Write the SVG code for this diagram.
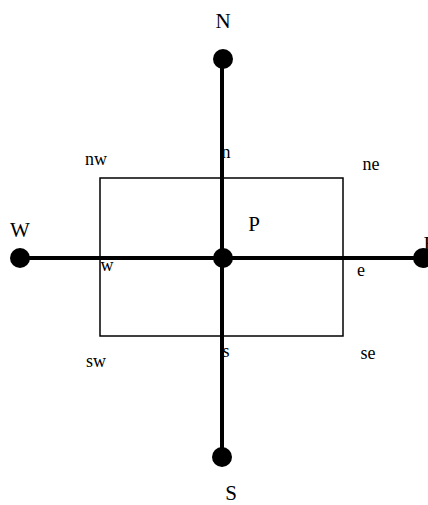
<svg xmlns="http://www.w3.org/2000/svg" width="428" height="505" viewBox="0 0 428 505">
<style>
text { font-family: "Liberation Serif", "Times New Roman", serif; fill: #000; text-anchor: middle; }
.big { font-size: 21px; }
.sm { font-size: 18px; }
.axis { stroke: #000; stroke-width: 4; fill: none; }
.cv { stroke: #000; stroke-width: 1.5; fill: none; }
.dot { fill: #000; }
</style>
<rect width="428" height="505" fill="#fff"/>
<g id="cv"><rect class="cv" x="100" y="178" width="243" height="158"/></g>
<g id="connectors">
<line class="axis" x1="222" y1="59" x2="222" y2="457"/>
<line class="axis" x1="20" y1="258" x2="422" y2="258"/>
</g>
<g id="N"><circle class="dot" cx="223" cy="59" r="10"/><text class="big" x="223" y="28">N</text></g>
<g id="S"><circle class="dot" cx="222" cy="457" r="10"/><text class="big" x="231" y="500">S</text></g>
<g id="W"><circle class="dot" cx="20" cy="258" r="10"/><text class="big" x="20" y="237">W</text></g>
<g id="E"><circle class="dot" cx="423" cy="258" r="10"/><text class="big" x="430" y="251">E</text></g>
<g id="P"><circle class="dot" cx="223" cy="258" r="10"/><text class="big" x="254" y="231">P</text></g>
<g id="faces">
<text class="sm" x="226" y="158">n</text>
<text class="sm" x="226" y="357">s</text>
<text class="sm" x="107" y="271">w</text>
<text class="sm" x="361" y="276">e</text>
<text class="sm" x="96" y="165">nw</text>
<text class="sm" x="371" y="170">ne</text>
<text class="sm" x="96" y="367">sw</text>
<text class="sm" x="368" y="359">se</text>
</g>
</svg>
